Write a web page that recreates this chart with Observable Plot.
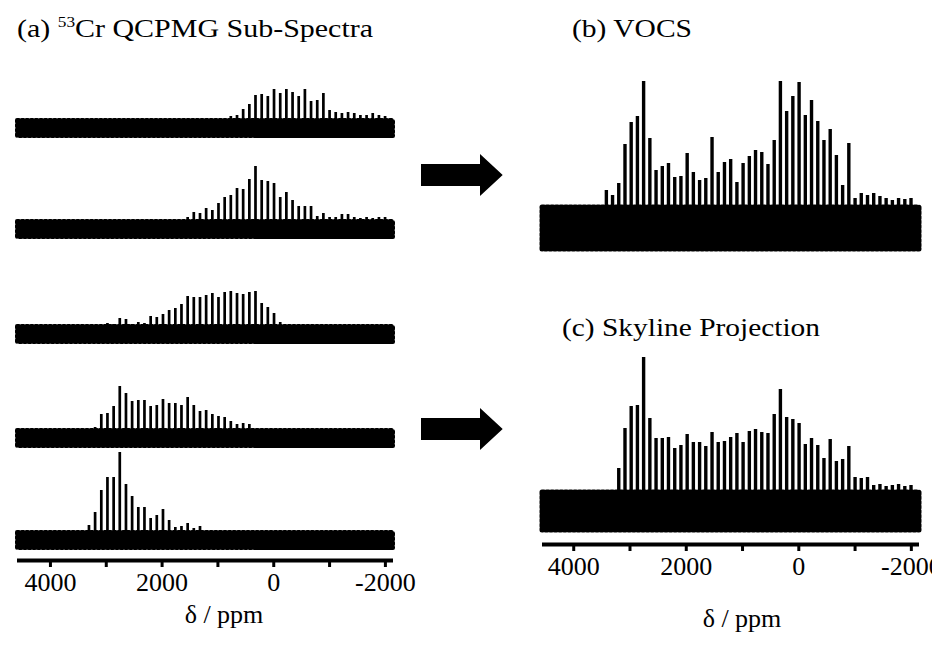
<!DOCTYPE html>
<html><head><meta charset="utf-8">
<script src="https://cdn.jsdelivr.net/npm/d3@7"></script>
<script src="https://cdn.jsdelivr.net/npm/@observablehq/plot@0.6"></script>
<style>
body{margin:0;background:#fff;}
#fig{position:relative;width:932px;height:648px;overflow:hidden;background:#fff;font-family:"Liberation Serif","Times New Roman",serif;}
#fig .panel{position:absolute;}
#overlay{position:absolute;left:0;top:0;pointer-events:none;}
</style></head><body><div id="fig"></div>
<script>
// QCPMG spikelet positions (ppm), high to low frequency
const spikeletPpm = [3420, 3310, 3200, 3089, 2979, 2868, 2758, 2647, 2537, 2426,
  2316, 2205, 2095, 1984, 1874, 1763, 1653, 1542, 1432, 1321,
  1211, 1100, 990, 879, 769, 658, 548, 437, 327, 216,
  106, -5, -116, -226, -337, -447, -558, -668, -779, -889,
  -1000, -1110, -1221, -1331, -1442, -1552, -1663, -1773, -1884, -1994];

// (a) sub-spectra spikelet intensities (same order as spikeletPpm)
const subSpectrum1 = [0,0,0,0,0,0,0,0,0,0, 0,0,0,0,0,0,0,0,0,0,
  0,0,0,0,12,13,19,24,33,34, 32,39,35,39,36,32,39,27,28,35, 18,16,15,16,15,13,13,15,13,12];
const subSpectrum2 = [0,0,0,0,0,0,0,0,0,0, 0,0,0,0,0,0,0,12,17,16,
  21,19,26,32,34,41,40,50,63,49, 48,46,32,37,29,23,23,23,13,16, 12,12,15,15,12,11,12,11,12,12];
const subSpectrum3 = [0,0,0,0,11,10,16,15,10,12, 11,18,17,20,24,26,30,38,37,37,
  39,41,37,42,43,41,40,42,43,31, 27,21,12,0,0,0,0,0,0,0, 0,0,0,0,0,0,0,0,0,0];
const subSpectrum4 = [0,0,11,24,25,32,52,45,37,38, 38,32,33,39,35,35,33,41,33,27,
  28,24,22,21,17,14,15,14,0,0, 0,0,0,0,0,0,0,0,0,0, 0,0,0,0,0,0,0,0,0,0];
const subSpectrum5 = [0,15,28,50,63,63,88,56,44,33, 33,22,25,31,20,13,14,17,12,14,
  0,0,0,0,0,0,0,0,0,0, 0,0,0,0,0,0,0,0,0,0, 0,0,0,0,0,0,0,0,0,0];
// (b) VOCS and (c) skyline projection intensities
const vocs = [38,33,45,84,106,112,147,90,58,62, 65,51,52,75,56,48,50,91,56,66,
  69,46,65,72,78,76,64,88,147,117, 132,146,113,128,107,88,99,73,43,85, 30,35,33,35,32,30,28,30,29,30];
const skyline = [0,0,43,83,105,106,154,93,73,73, 74,63,66,77,69,69,65,79,69,70,
  74,78,69,80,82,79,78,97,122,94, 92,88,67,73,66,53,72,50,52,65, 34,33,34,26,27,25,26,27,25,26];

// baseline noise half-amplitudes
const subNoise = [8, 8, 8, 8, 8];
const vocsNoise = 21;
const skylineNoise = 19;

// axis ticks
const xTicks = [4000, 3000, 2000, 1000, 0, -1000, -2000];
const xTickLabels = [4000, 2000, 0, -2000];
const xLabel = "δ / ppm";
const titles = {a: "Cr QCPMG Sub-Spectra", aIso: "53", b: "(b) VOCS", c: "(c) Skyline Projection"};

const fig = document.getElementById("fig");

function spectrum({heights, noise, xDomain, yDomain, width, height, mL, mR, mB, sw, edge, axis}) {
  const data = spikeletPpm.map((p, i) => ({ppm: p, h: heights[i]})).filter(d => d.h > 0);
  const marks = [
    Plot.areaY(xDomain, {x: d => d, y1: -noise, y2: noise, fill: "black", stroke: "black",
      strokeWidth: edge, strokeDasharray: "2 2.6"}),
    Plot.ruleX(data, {x: "ppm", y1: 0, y2: "h", stroke: "black", strokeWidth: sw})
  ];
  if (axis) {
    marks.push(
      Plot.ruleY([yDomain[0]], {stroke: "black", strokeWidth: 4}),
      Plot.axisX({ticks: xTicks, tickSize: 7, tickPadding: 5, strokeWidth: 3, label: null,
        tickFormat: d => xTickLabels.includes(d) ? String(d) : ""})
    );
  }
  return Plot.plot({
    width, height: height + (mB || 0),
    marginLeft: mL, marginRight: mR, marginTop: 0, marginBottom: mB || 0,
    x: {domain: xDomain, axis: null, label: null},
    y: {domain: yDomain, axis: null},
    style: {background: "transparent", overflow: "visible", fontFamily: "Liberation Serif, serif", fontSize: "26px", color: "black"},
    marks
  });
}

function place(node, left, top) {
  const d = document.createElement("div");
  d.className = "panel";
  d.style.left = left + "px";
  d.style.top = top + "px";
  d.appendChild(node);
  fig.appendChild(d);
}

// (a) left panel
const leftX = [4590, -2145];
const leftY = [-20, 83];
const subs = [subSpectrum1, subSpectrum2, subSpectrum3, subSpectrum4, subSpectrum5];
const subTops = [45, 146, 251, 355, 457];
subs.forEach((h, k) => {
  const last = k === subs.length - 1;
  place(spectrum({heights: h, noise: subNoise[k], xDomain: leftX, yDomain: leftY,
    width: 410, height: 103, mL: 17, mR: 17, mB: last ? 88 : 0, sw: 2.7, edge: 4, axis: last}), 0, subTops[k]);
});

// (b), (c) right panel
const rightX = [4555, -2145];
place(spectrum({heights: vocs, noise: vocsNoise, xDomain: rightX, yDomain: [-45, 160],
  width: 412, height: 205, mL: 22, mR: 13, sw: 3.4, edge: 5}), 520, 68);
place(spectrum({heights: skyline, noise: skylineNoise, xDomain: rightX, yDomain: [-33, 160],
  width: 412, height: 193, mL: 22, mR: 13, mB: 104, sw: 3.4, edge: 5, axis: true}), 520, 351);

// overlay: titles, axis labels, arrows
const ns = "http://www.w3.org/2000/svg";
const ov = document.createElementNS(ns, "svg");
ov.setAttribute("id", "overlay");
ov.setAttribute("width", 932);
ov.setAttribute("height", 648);
ov.innerHTML = `
<g font-family="Liberation Serif, Times New Roman, serif" fill="black">
  <text x="17" y="37" font-size="26" textLength="356" lengthAdjust="spacingAndGlyphs">(a) <tspan font-size="15" dy="-10">${titles.aIso}</tspan><tspan dy="10">${titles.a}</tspan></text>
  <text x="572" y="37" font-size="26" textLength="120" lengthAdjust="spacingAndGlyphs">${titles.b}</text>
  <text x="562" y="336" font-size="26" textLength="258" lengthAdjust="spacingAndGlyphs">${titles.c}</text>
  <text x="224" y="623" font-size="26" text-anchor="middle">${xLabel}</text>
  <text x="742" y="627" font-size="26" text-anchor="middle">${xLabel}</text>
  <path d="M421,164 H480 V154 L502.7,175 L480,196 V186 H421 Z"/>
  <path d="M421,418 H480 V408 L502.7,429 L480,450 V440 H421 Z"/>
</g>`;
fig.appendChild(ov);
</script>
</body></html>
